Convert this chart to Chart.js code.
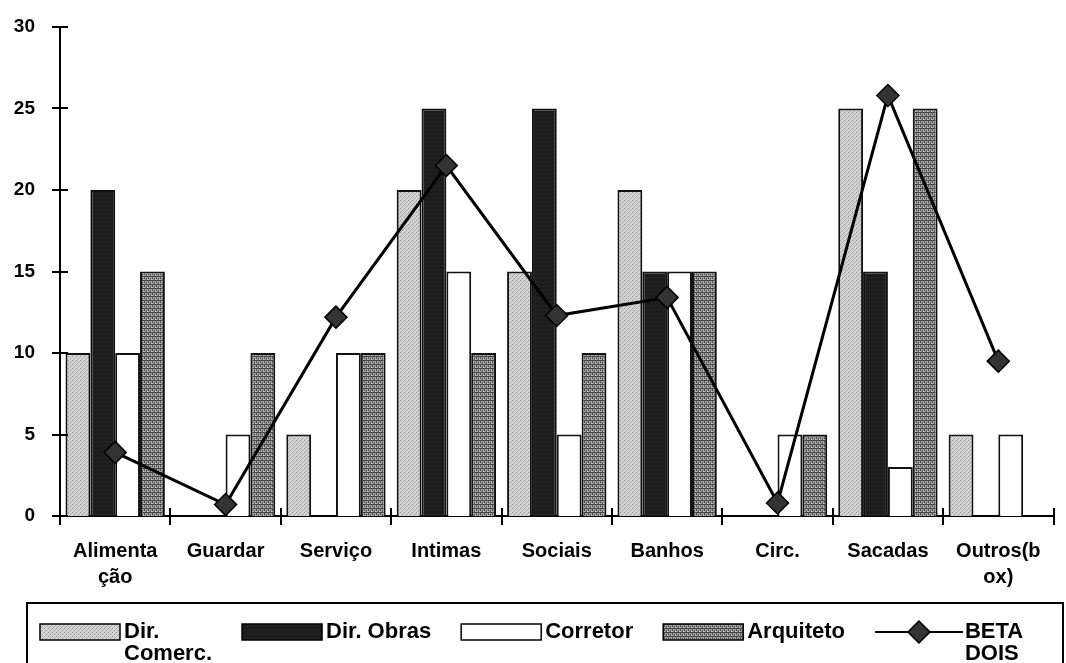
<!DOCTYPE html>
<html>
<head>
<meta charset="utf-8">
<script src="https://cdn.jsdelivr.net/npm/chart.js@4.4.0/dist/chart.umd.min.js"></script>
<style>
  html, body { margin: 0; padding: 0; background: #fff; }
</style>
</head>
<body>
<canvas id="chart" width="1066" height="663"></canvas>
<script>
// Categories (multi-line where the label wraps)
const categories = [['Alimenta', 'ção'], 'Guardar', 'Serviço', 'Intimas', 'Sociais', 'Banhos', 'Circ.', 'Sacadas', ['Outros(b', 'ox)']];

// Series values
const dirComerc = [10, 0, 5, 20, 15, 20, 0, 25, 5];
const dirObras  = [20, 0, 0, 25, 25, 15, 0, 15, 0];
const corretor  = [10, 5, 10, 15, 5, 15, 5, 3, 5];
const arquiteto = [15, 10, 10, 10, 10, 15, 5, 25, 0];
const betaDois  = [3.9, 0.7, 12.2, 21.5, 12.3, 13.4, 0.8, 25.8, 9.5];

// Y axis ticks
const yTicks = [0, 5, 10, 15, 20, 25, 30];

// Legend text, wrapped like the original
const legendLines = [['Dir.', 'Comerc.'], ['Dir. Obras'], ['Corretor'], ['Arquiteto'], ['BETA', 'DOIS']];

const FONT = '"Liberation Sans", Arial, sans-serif';

// Build a small repeating fill for the bars
function makePattern(base, dots) {
  const c = document.createElement('canvas');
  c.width = 4; c.height = 4;
  const g = c.getContext('2d');
  g.fillStyle = base;
  g.fillRect(0, 0, 4, 4);
  dots.forEach(([x, y, col]) => {
    g.fillStyle = col;
    g.fillRect(x, y, 1, 1);
  });
  return g.createPattern(c, 'repeat');
}

const ctx = document.getElementById('chart').getContext('2d');

const fillComerc = makePattern('#d2d2d2', [[0, 0, '#969696'], [2, 2, '#9e9e9e'], [1, 3, '#b8b8b8'], [3, 1, '#bcbcbc']]);
const fillObras = makePattern('#1b1b1b', [[1, 1, '#343434'], [3, 2, '#2e2e2e']]);
const fillCorretor = '#ffffff';
const fillArq = makePattern('#a2a2a2', [
  [0, 0, '#404040'], [1, 0, '#484848'], [2, 0, '#404040'], [3, 0, '#484848'],
  [0, 2, '#4e4e4e'], [2, 2, '#4e4e4e'], [0, 1, '#5c5c5c'], [2, 3, '#5c5c5c'], [3, 3, '#c4c4c4']
]);

// Tick marks crossing both axes
const axisTicks = {
  id: 'axisTicks',
  afterDraw(chart) {
    const { ctx, scales: { x, y } } = chart;
    ctx.save();
    ctx.strokeStyle = '#000';
    ctx.lineWidth = 2;
    ctx.beginPath();
    yTicks.forEach(v => {
      const py = Math.round(y.getPixelForValue(v));
      ctx.moveTo(x.left - 8, py);
      ctx.lineTo(x.left + 8, py);
    });
    for (let i = 0; i <= categories.length; i++) {
      const px = Math.round(x.getPixelForValue(i - 0.5));
      ctx.moveTo(px, y.bottom - 8);
      ctx.lineTo(px, y.bottom + 9);
    }
    ctx.stroke();
    ctx.restore();
  }
};

// Boxed legend under the chart, drawn on the canvas
const boxLegend = {
  id: 'boxLegend',
  afterDraw(chart) {
    const { ctx } = chart;
    const top = 603;
    ctx.save();
    ctx.strokeStyle = '#000';
    ctx.lineWidth = 2;
    ctx.strokeRect(27, top, 1036, 90);

    ctx.font = 'bold 22px ' + FONT;
    ctx.fillStyle = '#000';
    ctx.textBaseline = 'middle';
    const line1 = top + 29, line2 = top + 51;
    // bars first, line series last
    const order = [1, 2, 3, 4, 0];
    let x = 40;
    order.forEach((di, k) => {
      const ds = chart.data.datasets[di];
      const lines = legendLines[k];
      let textX;
      if (ds.type === 'line') {
        ctx.strokeStyle = '#000';
        ctx.lineWidth = 2;
        ctx.beginPath();
        ctx.moveTo(x, line1);
        ctx.lineTo(x + 88, line1);
        ctx.stroke();
        const cx = x + 44, r = 11;
        ctx.beginPath();
        ctx.moveTo(cx - r, line1);
        ctx.lineTo(cx, line1 - r);
        ctx.lineTo(cx + r, line1);
        ctx.lineTo(cx, line1 + r);
        ctx.closePath();
        ctx.fillStyle = '#333';
        ctx.fill();
        ctx.lineWidth = 1.5;
        ctx.stroke();
        textX = x + 90;
      } else {
        ctx.fillStyle = ds.backgroundColor;
        ctx.fillRect(x, line1 - 8, 80, 16);
        ctx.strokeStyle = '#000';
        ctx.lineWidth = 1.5;
        ctx.strokeRect(x, line1 - 8, 80, 16);
        textX = x + 84;
      }
      ctx.fillStyle = '#000';
      let w = 0;
      lines.forEach((t, j) => {
        ctx.fillText(t, textX, j === 0 ? line1 : line2);
        w = Math.max(w, ctx.measureText(t).width);
      });
      x = textX + w + 30;
    });
    ctx.restore();
  }
};

Chart.defaults.font.family = FONT;
Chart.defaults.font.weight = 'bold';
Chart.defaults.color = '#000';

const barStyle = { borderColor: '#111', borderWidth: 2, categoryPercentage: 0.9, barPercentage: 1.0, order: 1 };

new Chart(ctx, {
  type: 'bar',
  data: {
    labels: categories,
    datasets: [
      {
        type: 'line',
        label: 'BETA DOIS',
        data: betaDois,
        borderColor: '#000',
        borderWidth: 3,
        tension: 0,
        pointStyle: 'rectRot',
        pointRadius: 11,
        pointBackgroundColor: '#333',
        pointBorderColor: '#000',
        pointBorderWidth: 1.5,
        order: 0
      },
      { label: 'Dir. Comerc.', data: dirComerc, backgroundColor: fillComerc, ...barStyle },
      { label: 'Dir. Obras', data: dirObras, backgroundColor: fillObras, ...barStyle },
      { label: 'Corretor', data: corretor, backgroundColor: fillCorretor, ...barStyle },
      { label: 'Arquiteto', data: arquiteto, backgroundColor: fillArq, ...barStyle }
    ]
  },
  options: {
    responsive: false,
    animation: false,
    layout: { padding: { left: 0, right: 12, top: 27, bottom: 60 } },
    plugins: {
      legend: { display: false },
      tooltip: { enabled: false }
    },
    scales: {
      x: {
        offset: true,
        grid: { display: false, drawTicks: false, offset: true },
        border: { display: true, color: '#000', width: 2 },
        ticks: {
          font: { size: 20, weight: 'bold', lineHeight: 1.3 },
          padding: 22,
          maxRotation: 0,
          autoSkip: false
        },
        afterFit(scale) { scale.height = 87; }
      },
      y: {
        min: 0,
        max: 30,
        afterBuildTicks(scale) { scale.ticks = yTicks.map(v => ({ value: v })); },
        grid: { display: false, drawTicks: false },
        border: { display: true, color: '#000', width: 2 },
        ticks: {
          font: { size: 19, weight: 'bold' },
          padding: 25
        },
        afterFit(scale) {
          scale.width = 60;
          // label padding shouldn't push the plot down
          scale.paddingTop = 0;
          scale.paddingBottom = 0;
        }
      }
    }
  },
  plugins: [axisTicks, boxLegend]
});
</script>
</body>
</html>
